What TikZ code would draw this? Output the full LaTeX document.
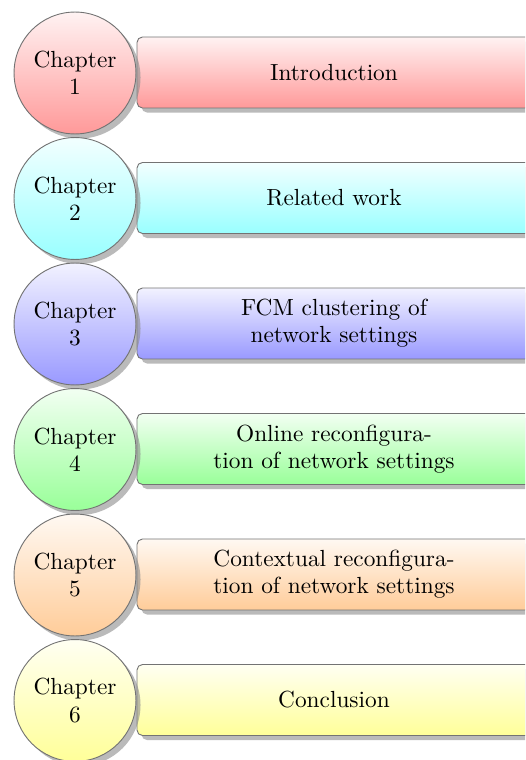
\documentclass[tikz,border=0pt]{standalone}
\usetikzlibrary{shadows}
\begin{document}
\begin{tikzpicture}[x=0.4396pt,y=-0.4396pt,
  every node/.style={font=\fontsize{10.25}{12}\selectfont},
  chap/.style={circle, draw=black!55, line width=0.4pt, minimum size=53.6pt, inner sep=0pt,
    align=center, top color=#1!5, bottom color=#1!40,
    drop shadow={shadow xshift=2pt, shadow yshift=-2pt, fill=black!45, opacity=0.6}},
  topic/.style={rectangle, rounded corners=2.4pt, draw=black!55, line width=0.4pt,
    minimum width=173.2pt, minimum height=31.2pt, align=center, inner sep=0pt,
    top color=#1!5, bottom color=#1!40,
    drop shadow={shadow xshift=2pt, shadow yshift=-2pt, fill=black!45, opacity=0.6}}]
\clip (0,0) rectangle (525,760);
\foreach \i/\col/\txt in {0/red/Introduction, 1/cyan/Related work,
  2/blue/{FCM clustering of\\network settings},
  3/green/{Online reconfigura-\\tion of network settings},
  4/orange/{Contextual reconfigura-\\tion of network settings},
  5/yellow/Conclusion}{
  \node[topic=\col] (t\i) at (334,{72.5+125.5*\i}) {\txt};
  \node[chap=\col] (c\i) at (75,{73+125.5*\i}) {Chapter\\\the\numexpr\i+1\relax};
}
\end{tikzpicture}
\end{document}
